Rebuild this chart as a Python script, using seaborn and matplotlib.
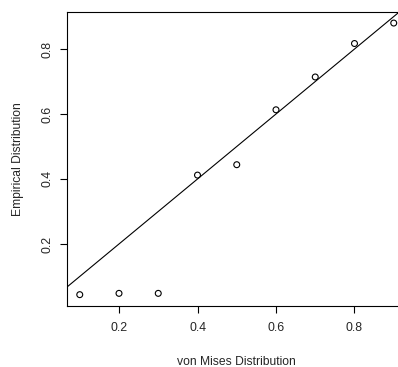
import matplotlib
matplotlib.use("Agg")
import matplotlib.pyplot as plt
import seaborn as sns
import numpy as np
import pandas as pd

# data
theoretical = [0.1, 0.2, 0.3, 0.4, 0.5, 0.6, 0.7, 0.8, 0.9]
empirical = [0.044, 0.048, 0.048, 0.412, 0.444, 0.613, 0.714, 0.817, 0.880]
ref_line = [0.0, 1.0]
xticks = [0.2, 0.4, 0.6, 0.8]
yticks = [0.2, 0.4, 0.6, 0.8]

sns.set_style("white")
plt.rcParams['font.family'] = ['Liberation Sans', 'DejaVu Sans']

W, H = 398, 367
fig = plt.figure(figsize=(W / 100, H / 100), dpi=100)
left, right, top, bottom = 67, 406.3, 12, 305.7
ax = fig.add_axes([left / W, (H - bottom) / H, (right - left) / W, (bottom - top) / H])

df = pd.DataFrame({"x": theoretical, "y": empirical})
sns.scatterplot(data=df, x="x", y="y", ax=ax, marker="o", s=18,
                facecolors="none", edgecolor="black", linewidth=0.8)
sns.lineplot(x=ref_line, y=ref_line, ax=ax, color="black", linewidth=0.8)

ax.set_xlim(0.0675, 0.932)
ax.set_ylim(0.010, 0.914)
ax.set_xticks(xticks)
ax.set_yticks(yticks)
ax.set_xticklabels([f"{t:.1f}" for t in xticks], fontsize=8.9)
ax.set_yticklabels([f"{t:.1f}" for t in yticks], fontsize=8.9, rotation=90, va="center")
ax.tick_params(axis="both", direction="out", length=5, width=0.8, color="black",
               bottom=True, left=True)
ax.tick_params(axis="x", pad=7)
ax.tick_params(axis="y", pad=5)
ax.set_xlabel("von Mises Distribution", fontsize=8.7, labelpad=15.5)
ax.set_ylabel("Empirical Distribution", fontsize=8.7, labelpad=12)
for s in ax.spines.values():
    s.set_color("black")
    s.set_linewidth(0.8)

fig.savefig("out.png", dpi=100, facecolor="white")
